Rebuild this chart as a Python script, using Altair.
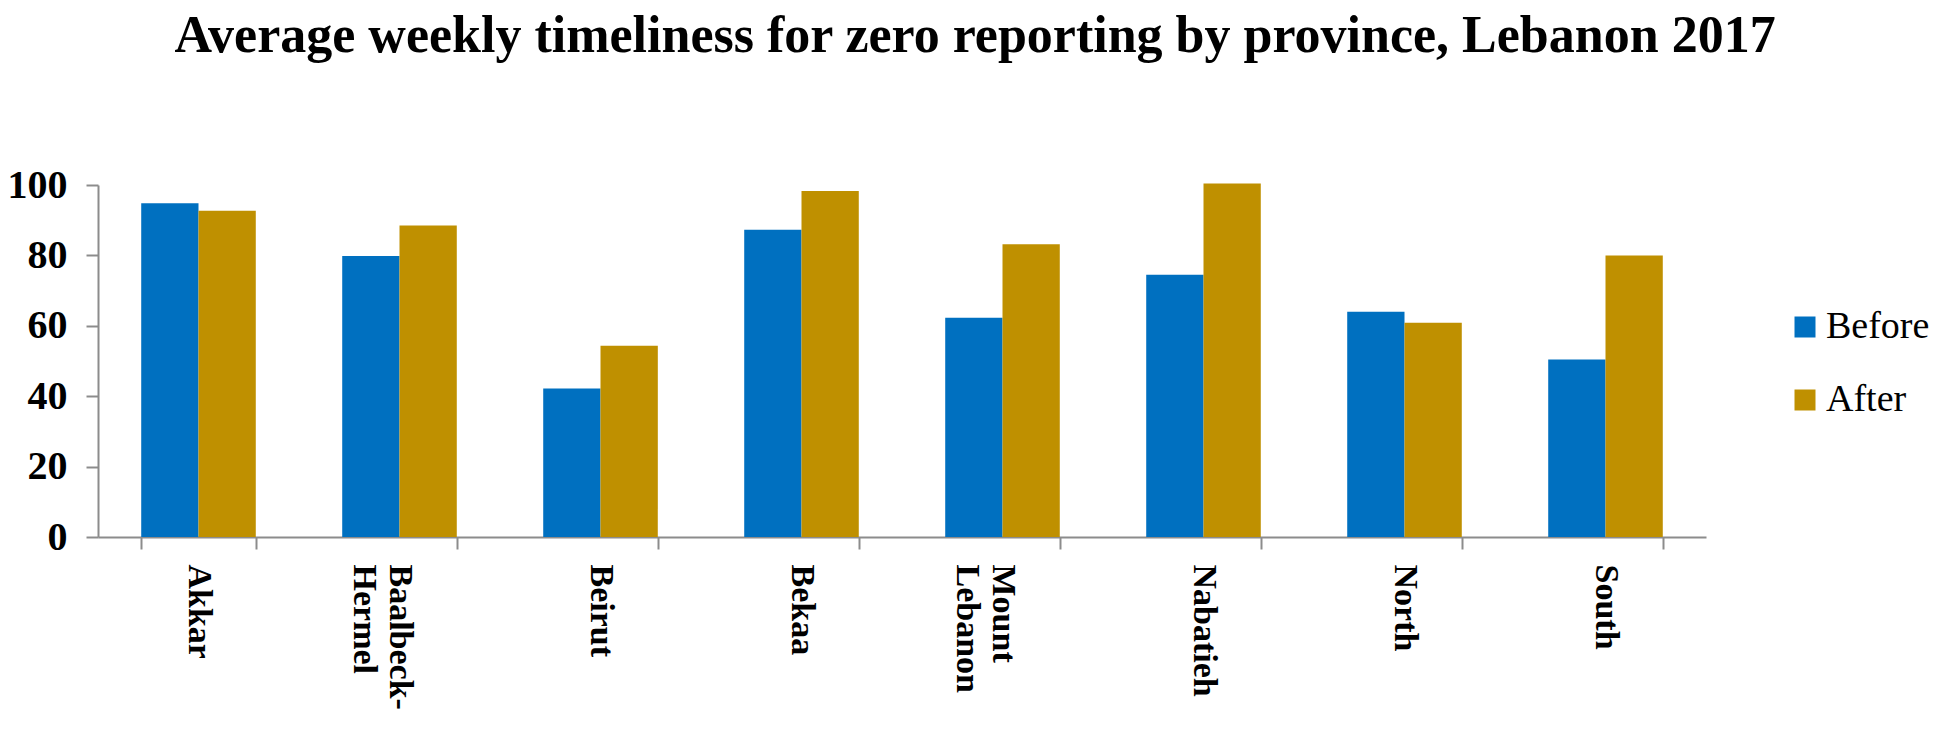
import altair as alt
import pandas as pd

provinces = ["Akkar", "Baalbeck-Hermel", "Beirut", "Bekaa", "Mount Lebanon", "Nabatieh", "North", "South"]
before = [94.8, 79.8, 42.2, 87.3, 62.3, 74.5, 64.0, 50.4]
after = [92.7, 88.5, 54.3, 98.3, 83.2, 100.4, 60.9, 80.0]
series = ["Before", "After"]
colors = ["#0070C0", "#BF9000"]
y_ticks = [0, 20, 40, 60, 80, 100]

rows = []
for p, b, a in zip(provinces, before, after):
    rows.append({"Province": p, "Period": "Before", "Value": b})
    rows.append({"Province": p, "Period": "After", "Value": a})
df = pd.DataFrame(rows)

NB = "\u00a0"
label_expr = (
    "datum.label == 'Baalbeck-Hermel' ? ['Baalbeck-', '" + NB * 2 + "Hermel'] : "
    "datum.label == 'Mount Lebanon' ? ['" + NB * 2 + "Mount', 'Lebanon'] : datum.label"
)

FONT = "Liberation Serif"

chart = alt.Chart(df).mark_bar(clip=False).encode(
    x=alt.X(
        "Province:N",
        sort=provinces,
        scale=alt.Scale(paddingInner=0.43, paddingOuter=0.215),
        axis=alt.Axis(
            title=None,
            labelExpr=label_expr,
            labelAngle=90,
            labelAlign="left",
            labelBaseline="middle",
            labelFont=FONT,
            labelFontWeight="bold",
            labelFontSize=34,
            labelColor="black",
            labelPadding=15,
            labelLimit=0,
            tickBand="extent",
            tickSize=12,
            tickColor="#8c8c8c",
            tickWidth=2,
            domainColor="#8c8c8c",
            domainWidth=2,
            grid=False,
        ),
    ),
    xOffset=alt.XOffset("Period:N", sort=series),
    y=alt.Y(
        "Value:Q",
        scale=alt.Scale(domain=[0, 100], nice=False),
        axis=alt.Axis(
            title=None,
            values=y_ticks,
            labelFont=FONT,
            labelFontWeight="bold",
            labelFontSize=40,
            labelColor="black",
            labelPadding=19,
            tickSize=12,
            tickColor="#8c8c8c",
            tickWidth=2,
            domainColor="#8c8c8c",
            domainWidth=2,
            grid=False,
        ),
    ),
    color=alt.Color(
        "Period:N",
        sort=series,
        scale=alt.Scale(domain=series, range=colors),
        legend=alt.Legend(
            title=None,
            orient="none",
            legendX=1688,
            legendY=123,
            symbolType="square",
            symbolSize=441,
            symbolStrokeWidth=0,
            labelFont=FONT,
            labelFontSize=38,
            labelColor="black",
            labelOffset=2,
            rowPadding=35,
            padding=0,
        ),
    ),
).properties(
    width=1608,
    height=352,
    title=alt.TitleParams(
        "Average weekly timeliness for zero reporting by province, Lebanon 2017",
        font=FONT,
        fontSize=52,
        fontWeight="bold",
        color="black",
        anchor="middle",
        frame="group",
        baseline="alphabetic",
        offset=61,
        dx=73,
    ),
    autosize=alt.AutoSizeParams(type="none"),
    padding={"left": 90, "top": 177, "right": 237, "bottom": 200},
).configure_view(stroke=None)

chart.save("out.html", embed_options={"renderer": "svg", "actions": False})
